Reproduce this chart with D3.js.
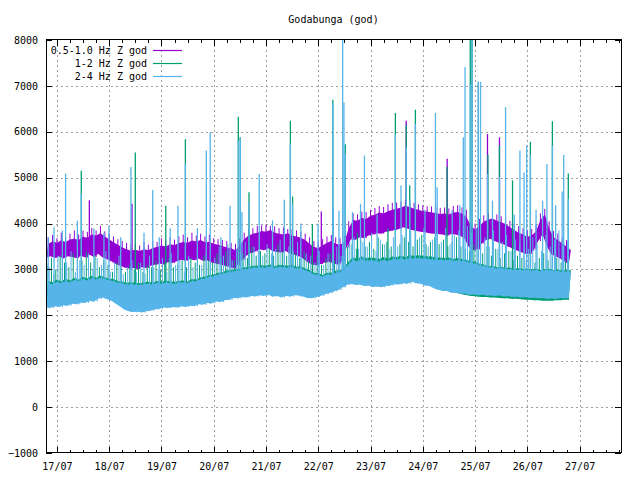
<!DOCTYPE html>
<html>
<head>
<meta charset="utf-8">
<script src="https://cdn.jsdelivr.net/npm/d3@7"></script>
<style>
  body { margin: 0; background: #fff; }
  svg text { font-family: "DejaVu Sans Mono", monospace; font-size: 10px; fill: #000; }
</style>
</head>
<body>
<div id="chart"></div>
<script>
// samples every 2 hours, starting 16/07 19:00: core band (lo/hi) and highest value in the window (peak)
var startTime = new Date(2025, 6, 16, 19);
var stepHours = 2;

var purpleLo = [
  3260, 3290, 3250, 3280, 3240, 3290, 3270, 3250, 3300, 3260,
  3320, 3270, 3340, 3260, 3220, 3180, 3120, 3080, 3040, 3020,
  3030, 3010, 3050, 3030, 3080, 3100, 3130, 3110, 3160, 3140,
  3180, 3210, 3190, 3230, 3200, 3240, 3190, 3200, 3150, 3130,
  3110, 3080, 3060, 3020, 3100, 3210, 3300, 3360, 3390, 3440,
  3420, 3460, 3400, 3380, 3370, 3400, 3350, 3320, 3290, 3240,
  3160, 3110, 3090, 3120, 3150, 3170, 3130, 3110, 3180, 3480,
  3660, 3640, 3700, 3680, 3740, 3760, 3790, 3780, 3820, 3840,
  3860, 3880, 3920, 3890, 3860, 3840, 3820, 3810, 3790, 3780,
  3770, 3760, 3740, 3770, 3760, 3740, 3680, 3500, 3420, 3440,
  3560, 3640, 3670, 3620, 3580, 3550, 3500, 3460, 3420, 3380,
  3340, 3340, 3420, 3620, 3760, 3500, 3330, 3290, 3240, 3180,
  3110
];
var purpleHi = [
  3560, 3610, 3580, 3630, 3600, 3650, 3670, 3640, 3710, 3690,
  3760, 3740, 3790, 3720, 3660, 3590, 3540, 3480, 3440, 3410,
  3430, 3400, 3440, 3420, 3470, 3490, 3520, 3500, 3550, 3530,
  3570, 3600, 3580, 3630, 3610, 3640, 3590, 3600, 3560, 3540,
  3510, 3480, 3460, 3420, 3520, 3660, 3740, 3780, 3800, 3840,
  3820, 3860, 3800, 3780, 3760, 3790, 3740, 3720, 3690, 3640,
  3560, 3490, 3470, 3520, 3580, 3620, 3560, 3540, 3600, 3900,
  4080, 4060, 4120, 4100, 4170, 4190, 4240, 4220, 4270, 4300,
  4320, 4350, 4390, 4360, 4320, 4300, 4270, 4260, 4240, 4230,
  4210, 4220, 4200, 4240, 4250, 4220, 4150, 3960, 3870, 3950,
  4040, 4090, 4110, 4060, 4030, 3990, 3920, 3860, 3800, 3760,
  3710, 3740, 3830, 4080, 4200, 3900, 3700, 3640, 3570, 3500,
  3420
];
var purplePeak = [
  3700, 3750, 3680, 3800, 3720, 3780, 3850, 3760, 3850, 3820,
  3900, 3850, 3950, 3830, 3780, 3720, 3660, 3620, 3580, 3540,
  3560, 3520, 3600, 3540, 3620, 3600, 3680, 3620, 3700, 3650,
  3720, 3760, 3700, 3800, 3740, 3780, 3720, 3760, 3680, 3660,
  3640, 3620, 3580, 3560, 3680, 3800, 3880, 3900, 3950, 3960,
  3980, 3950, 3940, 3900, 3920, 3880, 3870, 3850, 3820, 3780,
  3700, 3620, 3600, 3660, 3720, 3750, 3700, 3680, 3740, 4050,
  4220, 4200, 4260, 4250, 4300, 4340, 4380, 4360, 4420, 4450,
  4460, 4480, 4520, 4500, 4450, 4420, 4400, 4380, 4370, 4360,
  4340, 4350, 4330, 4380, 4400, 4350, 4300, 4100, 4000, 4100,
  4180, 4230, 4250, 4200, 4160, 4120, 4060, 4000, 3940, 3900,
  3850, 3880, 3980, 4220, 4320, 4050, 3840, 3780, 3700, 3640,
  3560
];

var greenLo = [
  2280, 2270, 2300, 2290, 2310, 2330, 2340, 2360, 2380, 2390,
  2400, 2420, 2460, 2490, 2460, 2420, 2360, 2300, 2230, 2190,
  2180, 2170, 2180, 2190, 2210, 2230, 2250, 2270, 2280, 2270,
  2280, 2290, 2280, 2300, 2310, 2330, 2350, 2360, 2380, 2400,
  2410, 2430, 2450, 2470, 2490, 2500, 2500, 2510, 2520, 2530,
  2530, 2540, 2520, 2510, 2500, 2510, 2520, 2530, 2540, 2520,
  2490, 2480, 2500, 2530, 2560, 2600, 2620, 2660, 2700, 2750,
  2780, 2770, 2760, 2750, 2740, 2730, 2720, 2730, 2740, 2760,
  2770, 2780, 2790, 2800, 2820, 2810, 2790, 2760, 2740, 2700,
  2640, 2600, 2560, 2520, 2490, 2470, 2450, 2430, 2420, 2410,
  2400, 2400, 2390, 2390, 2380, 2370, 2370, 2360, 2360, 2350,
  2340, 2340, 2330, 2330, 2320, 2320, 2320, 2330, 2330, 2340,
  2340
];
var greenHi = [
  2750, 2720, 2780, 2740, 2800, 2760, 2820, 2780, 2840, 2800,
  2860, 2820, 2870, 2830, 2800, 2790, 2750, 2740, 2710, 2720,
  2710, 2700, 2720, 2730, 2710, 2750, 2730, 2760, 2740, 2730,
  2750, 2760, 2740, 2790, 2780, 2830, 2840, 2880, 2890, 2930,
  2940, 2980, 2980, 3010, 3010, 3050, 3050, 3080, 3080, 3090,
  3080, 3110, 3070, 3100, 3090, 3080, 3100, 3060, 3070, 3020,
  2990, 2930, 2920, 2880, 2930, 2930, 2970, 2980, 3050, 3180,
  3260, 3240, 3280, 3250, 3260, 3250, 3230, 3270, 3240, 3280,
  3270, 3300, 3270, 3310, 3300, 3310, 3300, 3290, 3280, 3260,
  3260, 3250, 3260, 3230, 3250, 3230, 3210, 3180, 3170, 3130,
  3110, 3070, 3080, 3050, 3060, 3030, 3040, 3010, 3030, 3010,
  3020, 3000, 3020, 2990, 3010, 3010, 2990, 3000, 2970, 2990,
  2980
];
var greenPeak = [
  3100, 3250, 3000, 3300, 3150, 3050, 3350, 3100, 3200, 3400,
  3150, 3300, 3050, 3200, 3100, 2950, 3150, 3050, 2950, 3100,
  3000, 3150, 2950, 3100, 3050, 3200, 3000, 3150, 3250, 3050,
  3100, 3200, 3050, 3250, 3150, 3100, 3300, 3200, 3150, 3350,
  3250, 3400, 3300, 3200, 3450, 3350, 3250, 3500, 3300, 3400,
  3350, 3450, 3300, 3550, 3400, 3300, 3450, 3350, 3250, 3400,
  3200, 3150, 3300, 3100, 3250, 3350, 3200, 3400, 3300, 3500,
  3550, 3450, 3650, 3500, 3600, 3450, 3700, 3550, 3600, 3500,
  3650, 3550, 3700, 3600, 3500, 3650, 3750, 3550, 3600, 3700,
  3550, 3650, 3500, 3600, 3700, 3500, 3450, 3400, 3550, 3450,
  3350, 3500, 3300, 3450, 3250, 3350, 3400, 3200, 3300, 3250,
  3200, 3300, 3150, 3250, 3350, 3200, 3100, 3250, 3150, 3200,
  3100
];

var blueLo = [
  2180, 2160, 2200, 2180, 2220, 2210, 2250, 2240, 2280, 2270,
  2310, 2300, 2360, 2390, 2350, 2320, 2250, 2190, 2120, 2090,
  2070, 2080, 2060, 2090, 2100, 2130, 2140, 2170, 2160, 2180,
  2170, 2200, 2180, 2210, 2200, 2240, 2230, 2270, 2260, 2300,
  2290, 2330, 2340, 2380, 2370, 2400, 2390, 2420, 2410, 2440,
  2420, 2450, 2410, 2420, 2390, 2420, 2410, 2440, 2430, 2410,
  2380, 2370, 2400, 2420, 2460, 2480, 2520, 2550, 2610, 2660,
  2690, 2660, 2670, 2640, 2650, 2620, 2630, 2610, 2640, 2650,
  2680, 2670, 2700, 2690, 2730, 2700, 2690, 2650, 2640, 2590,
  2560, 2530, 2530, 2490, 2500, 2470, 2480, 2450, 2460, 2440,
  2450, 2430, 2440, 2420, 2440, 2410, 2420, 2400, 2410, 2390,
  2400, 2380, 2390, 2370, 2380, 2360, 2370, 2360, 2380, 2370,
  2380
];
var blueHi = [
  2700, 2680, 2730, 2700, 2750, 2720, 2770, 2740, 2790, 2760,
  2810, 2780, 2820, 2790, 2760, 2750, 2710, 2700, 2670, 2680,
  2670, 2660, 2680, 2690, 2670, 2710, 2690, 2720, 2700, 2690,
  2710, 2720, 2700, 2750, 2740, 2790, 2800, 2840, 2850, 2890,
  2900, 2940, 2940, 2970, 2970, 3010, 3010, 3040, 3040, 3050,
  3040, 3070, 3030, 3060, 3050, 3040, 3060, 3020, 3030, 2980,
  2950, 2890, 2880, 2840, 2890, 2890, 2930, 2940, 3010, 3120,
  3200, 3180, 3220, 3190, 3200, 3190, 3170, 3210, 3180, 3220,
  3210, 3240, 3210, 3250, 3240, 3250, 3240, 3230, 3220, 3200,
  3210, 3200, 3210, 3180, 3200, 3180, 3170, 3140, 3130, 3090,
  3080, 3040, 3050, 3020, 3030, 3000, 3010, 2980, 3000, 2980,
  2990, 2970, 2990, 2960, 2980, 2980, 2960, 2970, 2940, 2960,
  2950
];
var bluePeak = [
  3050, 2900, 3300, 2950, 3150, 3400, 2950, 3200, 3100, 3350,
  3000, 3250, 3100, 3400, 2950, 3150, 3300, 2900, 3050, 3200,
  2950, 3150, 2900, 3300, 3050, 3000, 3250, 2950, 3350, 3100,
  3200, 2950, 3300, 3050, 3400, 3100, 3350, 3150, 3250, 3500,
  3300, 3550, 3200, 3450, 3350, 3600, 3250, 3500, 3400, 3300,
  3550, 3350, 3450, 3650, 3300, 3500, 3400, 3600, 3250, 3350,
  3300, 3150, 3400, 3100, 3350, 3200, 3500, 3300, 3450, 3600,
  3700, 3450, 3600, 3500, 3800, 3400, 3650, 3550, 3450, 3700,
  3500, 3750, 3600, 3850, 3550, 3700, 3900, 3500, 3650, 3800,
  3600, 3900, 3550, 3750, 3850, 3700, 3950, 3800, 3900, 3650,
  3700, 3500, 3850, 3450, 3600, 3750, 3400, 3650, 3550, 3800,
  3450, 3700, 3550, 3400, 3750, 3500, 3650, 3850, 3500, 3600,
  3400
];

// isolated spikes: [hours after start, value]
var purpleSpikes = [
  [19.9, 4510], [39.5, 4430], [126.4, 4260], [165.4, 6240],
  [184.2, 5410], [202.7, 5950], [208.2, 5880]
];
var greenSpikes = [
  [16.2, 5150], [41, 5550], [55, 4390], [64, 5840], [88.3, 6330],
  [89.2, 5880], [93.2, 4680], [112.2, 6240], [113.2, 4590], [122.3, 3990],
  [131.7, 6700], [137.4, 5730], [143, 3800], [157, 3900], [160.4, 6410],
  [165.4, 6150], [167, 4830], [169.6, 6480], [184.1, 5230], [194.8, 8200],
  [195.6, 8200], [198.5, 7090], [202.9, 5500], [208.2, 5700], [214.2, 4940],
  [222.4, 5780], [232.5, 6230], [239.8, 5090]
];
var blueSpikes = [
  [1, 3700], [3.7, 3920], [7.5, 3850], [9, 5090], [14.4, 4060], [16.2, 4650],
  [22, 3900], [26.6, 3800], [28.9, 3950], [34.3, 3700], [39, 5230], [45, 3800],
  [49, 4730], [52, 3700], [57, 3900], [60.6, 4390], [64, 5300], [69.5, 3900],
  [73.6, 5590], [75.4, 5990], [80.3, 3700], [84.5, 4390], [88.3, 5800],
  [89.2, 5880], [90, 4250], [93.2, 4460], [97.9, 5080], [104, 4070],
  [109.4, 4520], [112.2, 5730], [113.2, 4440], [117, 4000], [124.9, 4000],
  [131.7, 6640], [131.9, 4360], [134.5, 4280], [136.2, 8200], [136.8, 6640],
  [137.4, 5510], [140.7, 4250], [144.4, 4430], [146.2, 5480], [152, 4200],
  [160.4, 5950], [163, 4830], [165.4, 5660], [167, 4500], [169.6, 6170],
  [174, 4300], [178.8, 6410], [179.6, 4790], [186.5, 4300], [190, 4400],
  [191.6, 5880], [192.4, 7410], [194.8, 7040], [195.6, 8200], [198.5, 7090],
  [199.5, 7090], [202.7, 5080], [205, 4500], [208.2, 5010], [211, 6540],
  [215, 4200], [217.6, 5590], [219.5, 5120], [220.7, 5700], [222.4, 5500],
  [225, 4300], [228, 4500], [230, 5300], [232.5, 5700], [234, 4400],
  [237, 4700], [237.7, 5500], [239.8, 4540]
];

var seriesNames = ["0.5-1.0 Hz Z god", "1-2 Hz Z god", "2-4 Hz Z god"];
var colors = ["#9400d3", "#009e73", "#56b4e9"];
var yTicks = [-1000, 0, 1000, 2000, 3000, 4000, 5000, 6000, 7000, 8000];

var W = 640, H = 480;
var plotL = 46, plotR = 621, plotT = 40, plotB = 453;

var svg = d3.select("#chart").append("svg")
    .attr("width", W)
    .attr("height", H);

function hoursToDate(h) {
    return new Date(startTime.getTime() + h * 3600e3);
}

var x = d3.scaleTime()
    .domain([new Date(2025, 6, 16, 19), new Date(2025, 6, 27, 19)])
    .range([plotL, plotR]);
var y = d3.scaleLinear()
    .domain([-1000, 8000])
    .range([plotB, plotT]);

var days = d3.timeDay.range(new Date(2025, 6, 17), new Date(2025, 6, 28));
var quarters = d3.timeHour.every(6).range(x.domain()[0], x.domain()[1]);

// grid
var grid = svg.append("g")
    .attr("stroke", "#a0a0a0")
    .attr("stroke-dasharray", "2,3")
    .attr("shape-rendering", "crispEdges");
grid.selectAll("line.gx")
    .data(days)
    .enter().append("line")
    .attr("x1", function (d) { return Math.round(x(d)) + 0.5; })
    .attr("x2", function (d) { return Math.round(x(d)) + 0.5; })
    .attr("y1", plotT)
    .attr("y2", plotB);
grid.selectAll("line.gy")
    .data(yTicks.filter(function (v) { return v > -1000 && v < 8000; }))
    .enter().append("line")
    .attr("x1", plotL)
    .attr("x2", plotR)
    .attr("y1", function (d) { return Math.round(y(d)) + 0.5; })
    .attr("y2", function (d) { return Math.round(y(d)) + 0.5; });

// data
svg.append("clipPath").attr("id", "clip")
    .append("rect")
    .attr("x", plotL).attr("y", plotT)
    .attr("width", plotR - plotL).attr("height", plotB - plotT);

var plot = svg.append("g").attr("clip-path", "url(#clip)");

var series = [
    { lo: purpleLo, hi: purpleHi, peak: purplePeak, spikes: purpleSpikes, off: 1 },
    { lo: greenLo, hi: greenHi, peak: greenPeak, spikes: greenSpikes, off: 0.5 },
    { lo: blueLo, hi: blueHi, peak: bluePeak, spikes: blueSpikes, off: 1.5 }
];

var band = d3.area()
    .x0(function (d) { return x(hoursToDate(d.h)); })
    .x1(function (d) { return x(hoursToDate(d.h + 1)); })
    .y0(function (d) { return y(d.lo); })
    .y1(function (d) { return y(d.hi); });

series.forEach(function (s, k) {
    var pts = s.lo.map(function (v, i) {
        return { h: i * stepHours, lo: v, hi: s.hi[i], peak: s.peak[i] };
    });
    plot.append("path")
        .datum(pts)
        .attr("fill", colors[k])
        .attr("d", band);

    // highest value of each window
    plot.append("g")
        .selectAll("line")
        .data(pts.slice(0, pts.length - 1))
        .enter().append("line")
        .attr("x1", function (d) { return x(hoursToDate(d.h + s.off)); })
        .attr("x2", function (d) { return x(hoursToDate(d.h + s.off)); })
        .attr("y1", function (d) { return y(d.lo); })
        .attr("y2", function (d) { return y(d.peak); })
        .attr("stroke", colors[k])
        .attr("stroke-width", 1);

    plot.append("g")
        .selectAll("line")
        .data(s.spikes)
        .enter().append("line")
        .attr("x1", function (d) { return x(hoursToDate(d[0])); })
        .attr("x2", function (d) { return x(hoursToDate(d[0])); })
        .attr("y1", function (d) { return y(s.lo[Math.round(d[0] / stepHours)]); })
        .attr("y2", function (d) { return y(d[1]); })
        .attr("stroke", colors[k])
        .attr("stroke-width", 1.3);
});

// axes
var fmt = d3.timeFormat("%d/%m");

function clean(g) {
    g.select(".domain").remove();
    g.attr("font-family", null).attr("font-size", null);
    g.attr("shape-rendering", "crispEdges");
}

svg.append("g")
    .attr("transform", "translate(0," + plotB + ")")
    .call(d3.axisBottom(x).tickValues(days).tickSize(-6).tickPadding(10).tickFormat(fmt))
    .call(clean);
svg.append("g")
    .attr("transform", "translate(0," + plotB + ")")
    .call(d3.axisBottom(x).tickValues(quarters).tickSize(-3).tickFormat(""))
    .call(clean);
svg.append("g")
    .attr("transform", "translate(0," + plotT + ")")
    .call(d3.axisTop(x).tickValues(days).tickSize(-6).tickFormat(""))
    .call(clean);
svg.append("g")
    .attr("transform", "translate(0," + plotT + ")")
    .call(d3.axisTop(x).tickValues(quarters).tickSize(-3).tickFormat(""))
    .call(clean);
svg.append("g")
    .attr("transform", "translate(" + plotL + ",0)")
    .call(d3.axisLeft(y).tickValues(yTicks).tickSize(-6).tickPadding(8).tickFormat(d3.format("d")))
    .call(clean);
svg.append("g")
    .attr("transform", "translate(" + plotR + ",0)")
    .call(d3.axisRight(y).tickValues(yTicks).tickSize(-6).tickFormat(""))
    .call(clean);

svg.append("rect")
    .attr("x", plotL + 0.5).attr("y", plotT - 0.5)
    .attr("width", plotR - plotL).attr("height", plotB - plotT)
    .attr("fill", "none")
    .attr("stroke", "#000")
    .attr("shape-rendering", "crispEdges");

// title
svg.append("text")
    .attr("x", (plotL + plotR) / 2)
    .attr("y", 23)
    .attr("text-anchor", "middle")
    .text("Godabunga (god)");

// legend
var legend = svg.append("g");
seriesNames.forEach(function (name, k) {
    var ly = 50 + k * 13;
    legend.append("text")
        .attr("x", 147)
        .attr("y", ly + 4)
        .attr("text-anchor", "end")
        .text(name);
    legend.append("line")
        .attr("x1", 153).attr("x2", 182)
        .attr("y1", ly + 0.5).attr("y2", ly + 0.5)
        .attr("stroke", colors[k])
        .attr("stroke-width", 1.2);
});
</script>
</body>
</html>
